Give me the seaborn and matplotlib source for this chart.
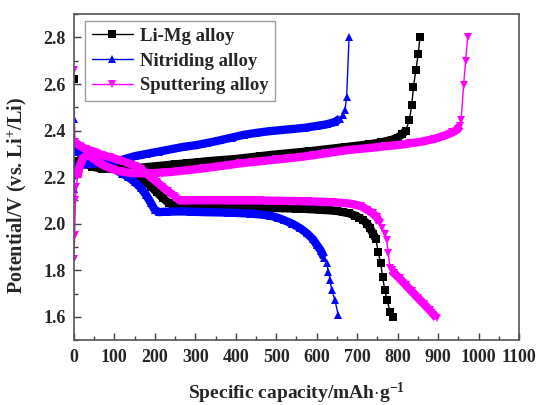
import matplotlib
matplotlib.use("Agg")
import matplotlib.pyplot as plt
import seaborn as sns
import pandas as pd
from matplotlib.ticker import MultipleLocator

# ---------------- data ----------------
series_names = ["Li-Mg alloy", "Nitriding alloy", "Sputtering alloy"]

# Li-Mg alloy
limg_dis_cap = [0, 2, 10, 25, 40, 60, 80, 100, 120, 140, 160, 175, 190, 205, 220, 235, 250,
                270, 290, 310, 330, 350, 370, 390, 410, 430, 450, 470, 490, 510, 530, 550,
                570, 590, 610, 630, 650, 665, 680, 695, 705, 715, 725, 732, 740, 746,
                752, 758, 763, 768, 774, 781, 788]
limg_dis_v = [2.62, 2.34, 2.31, 2.295, 2.285, 2.27, 2.26, 2.25, 2.24, 2.225, 2.205, 2.185, 2.16,
              2.135, 2.11, 2.088, 2.078, 2.077, 2.077, 2.076, 2.075, 2.075, 2.074, 2.073, 2.072,
              2.071, 2.070, 2.069, 2.068, 2.067, 2.066, 2.065, 2.064, 2.062, 2.060, 2.058,
              2.055, 2.05, 2.045, 2.035, 2.026, 2.016, 2.0, 1.98, 1.955, 1.935,
              1.88, 1.83, 1.773, 1.716, 1.673, 1.623, 1.60]
limg_chg_cap = [0, 3, 10, 25, 45, 70, 100, 130, 160, 190, 220, 250, 280, 310, 340, 370, 400,
                430, 460, 490, 520, 550, 580, 610, 640, 670, 700, 730, 760, 785, 800, 812,
                820, 829, 835, 839, 845, 851, 855]
limg_chg_v = [2.21, 2.26, 2.27, 2.26, 2.245, 2.237, 2.236, 2.237, 2.24, 2.245, 2.25, 2.255,
              2.26, 2.265, 2.27, 2.274, 2.278, 2.284, 2.29, 2.296, 2.301, 2.306, 2.311, 2.317,
              2.323, 2.329, 2.335, 2.341, 2.35, 2.36, 2.37, 2.385, 2.40, 2.447, 2.51, 2.587,
              2.66, 2.73, 2.80]

# Nitriding alloy
nit_dis_cap = [0, 2, 10, 25, 40, 60, 80, 100, 120, 135, 150, 165, 178, 190, 200, 210, 230,
               260, 290, 320, 350, 380, 410, 435, 460, 485, 505, 520, 540, 560, 575, 590,
               600, 610, 618, 625, 629, 633, 637, 645, 653]
nit_dis_v = [2.45, 2.33, 2.31, 2.29, 2.28, 2.265, 2.25, 2.235, 2.215, 2.2, 2.18, 2.155, 2.125,
             2.09, 2.06, 2.05, 2.052, 2.053, 2.052, 2.05, 2.049, 2.048, 2.046, 2.044, 2.04,
             2.035, 2.025, 2.015, 2.0, 1.98, 1.96, 1.935, 1.91, 1.885, 1.855, 1.83, 1.795,
             1.76, 1.716, 1.673, 1.61]
nit_chg_cap = [0, 3, 10, 30, 60, 90, 120, 150, 180, 210, 240, 270, 300, 330, 360, 390, 420,
               450, 480, 510, 540, 570, 600, 625, 645, 658, 666, 670, 674, 680]
nit_chg_v = [2.15, 2.22, 2.25, 2.255, 2.26, 2.266, 2.275, 2.29, 2.3, 2.31, 2.32, 2.33, 2.337,
             2.347, 2.358, 2.37, 2.382, 2.39, 2.397, 2.402, 2.407, 2.412, 2.42, 2.427, 2.437,
             2.452, 2.468, 2.487, 2.544, 2.80]

# Sputtering alloy
spu_dis_cap = [0, 2, 15, 30, 50, 70, 90, 110, 130, 150, 165, 178, 190, 205, 218, 232, 248,
               262, 280, 300, 320, 340, 360, 380, 400, 420, 440, 460, 480, 500, 520, 540,
               560, 580, 600, 620, 640, 660, 680, 695, 710, 725, 738, 748, 756, 762, 768,
               773, 777, 781, 785, 790, 805, 820, 835, 850, 865, 880, 897]
spu_dis_v = [2.66, 2.35, 2.335, 2.32, 2.31, 2.295, 2.285, 2.275, 2.263, 2.25, 2.237, 2.22, 2.2,
             2.18, 2.16, 2.14, 2.12, 2.10, 2.10, 2.101, 2.101, 2.101, 2.101, 2.1, 2.1, 2.1,
             2.1, 2.1, 2.099, 2.099, 2.098, 2.098, 2.097, 2.096, 2.095, 2.094, 2.092, 2.09,
             2.087, 2.082, 2.075, 2.06, 2.045, 2.03, 2.005, 1.98, 1.955, 1.93, 1.874, 1.81,
             1.80, 1.79, 1.765, 1.737, 1.71, 1.682, 1.655, 1.628, 1.595]
spu_chg_cap = [0, 2, 4, 6, 9, 14, 22, 32, 45, 60, 75, 95, 115, 140, 170, 200, 230, 260, 290,
               320, 350, 380, 410, 440, 470, 500, 530, 560, 590, 620, 650, 680, 710, 740,
               770, 800, 830, 860, 890, 915, 935, 948, 954, 957, 963, 968, 973]
spu_chg_v = [1.85, 1.95, 2.10, 2.16, 2.2, 2.245, 2.28, 2.295, 2.285, 2.265, 2.25, 2.235, 2.225,
             2.218, 2.216, 2.218, 2.221, 2.226, 2.232, 2.238, 2.245, 2.252, 2.259, 2.265,
             2.27, 2.276, 2.281, 2.287, 2.294, 2.302, 2.31, 2.317, 2.322, 2.327, 2.333, 2.338,
             2.345, 2.353, 2.364, 2.378, 2.392, 2.405, 2.42, 2.447, 2.595, 2.70, 2.80]

colors = ["#000000", "#0000FF", "#FF00FF"]
markers = ["s", "^", "v"]

curves = [
    (limg_dis_cap, limg_dis_v, limg_chg_cap, limg_chg_v),
    (nit_dis_cap, nit_dis_v, nit_chg_cap, nit_chg_v),
    (spu_dis_cap, spu_dis_v, spu_chg_cap, spu_chg_v),
]
# capacity ranges where the dense data points merge into a solid band (style only)
band_ranges = [
    ([(2, 746)], [(3, 820)]),
    ([(2, 618)], [(3, 658)]),
    ([(2, 756), (785, 897)], [(9, 954)]),
]

# ---------------- style ----------------
sns.set_style("ticks")
plt.rcParams["font.family"] = ["Liberation Serif", "DejaVu Serif"]
plt.rcParams["font.weight"] = "bold"
plt.rcParams["mathtext.fontset"] = "custom"
plt.rcParams["mathtext.rm"] = "Liberation Serif:bold"
plt.rcParams["mathtext.it"] = "Liberation Serif:bold"
plt.rcParams["mathtext.bf"] = "Liberation Serif:bold"

fig = plt.figure(figsize=(5.39, 4.05), dpi=100)
ax = fig.add_axes([0.137, 0.160, 0.826, 0.805])

for name, col, mk, (dc, dv, cc, cv), bands in zip(series_names, colors, markers,
                                                   curves, band_ranges):
    for k, (xc, yv) in enumerate([(dc, dv), (cc, cv)]):
        df = pd.DataFrame({"cap": xc, "V": yv})
        for lo, hi in bands[k]:
            sub = df[(df.cap >= lo) & (df.cap <= hi)]
            sns.lineplot(data=sub, x="cap", y="V", ax=ax, sort=False, estimator=None,
                         color=col, lw=6.0, solid_capstyle="butt", solid_joinstyle="round")
        sns.lineplot(data=df, x="cap", y="V", ax=ax, sort=False, estimator=None,
                     color=col, lw=1.0, marker=mk, markersize=5.8,
                     markeredgewidth=0, label=name if k == 0 else None)

ax.set_xlim(0, 1100)
ax.set_ylim(1.5, 2.9)
ax.xaxis.set_major_locator(MultipleLocator(100))
ax.xaxis.set_minor_locator(MultipleLocator(50))
ax.set_yticks([1.6, 1.8, 2.0, 2.2, 2.4, 2.6, 2.8])
ax.yaxis.set_minor_locator(MultipleLocator(0.1))
ax.tick_params(which="both", direction="in", top=False, right=False,
               labelsize=13, color="#404040", pad=6)
ax.tick_params(which="major", length=5, width=1.0)
ax.tick_params(which="minor", length=3, width=1.0)
for lab in ax.get_xticklabels() + ax.get_yticklabels():
    lab.set_fontweight("bold")
for s in ax.spines.values():
    s.set_color("#555555")
    s.set_linewidth(1.2)

ax.set_xlabel(r"Specific capacity/mAh$\cdot$g$^{-1}$", fontsize=14,
              fontweight="bold", labelpad=11)
ax.set_ylabel(r"Potential/V (vs. Li$^{+}$/Li)", fontsize=14.5, fontweight="bold")
ax.yaxis.set_label_coords(-0.1, 0.445)

leg = ax.legend(loc="upper left", bbox_to_anchor=(0.025, 0.978), borderaxespad=0,
                frameon=True, fancybox=False, fontsize=13.5, handlelength=2.2,
                handletextpad=0.4, labelspacing=0.40, borderpad=0.35)
leg.get_frame().set_edgecolor("#888888")
leg.get_frame().set_linewidth(1.0)
for t in leg.get_texts():
    t.set_fontweight("bold")

fig.savefig("out.png", dpi=100)
